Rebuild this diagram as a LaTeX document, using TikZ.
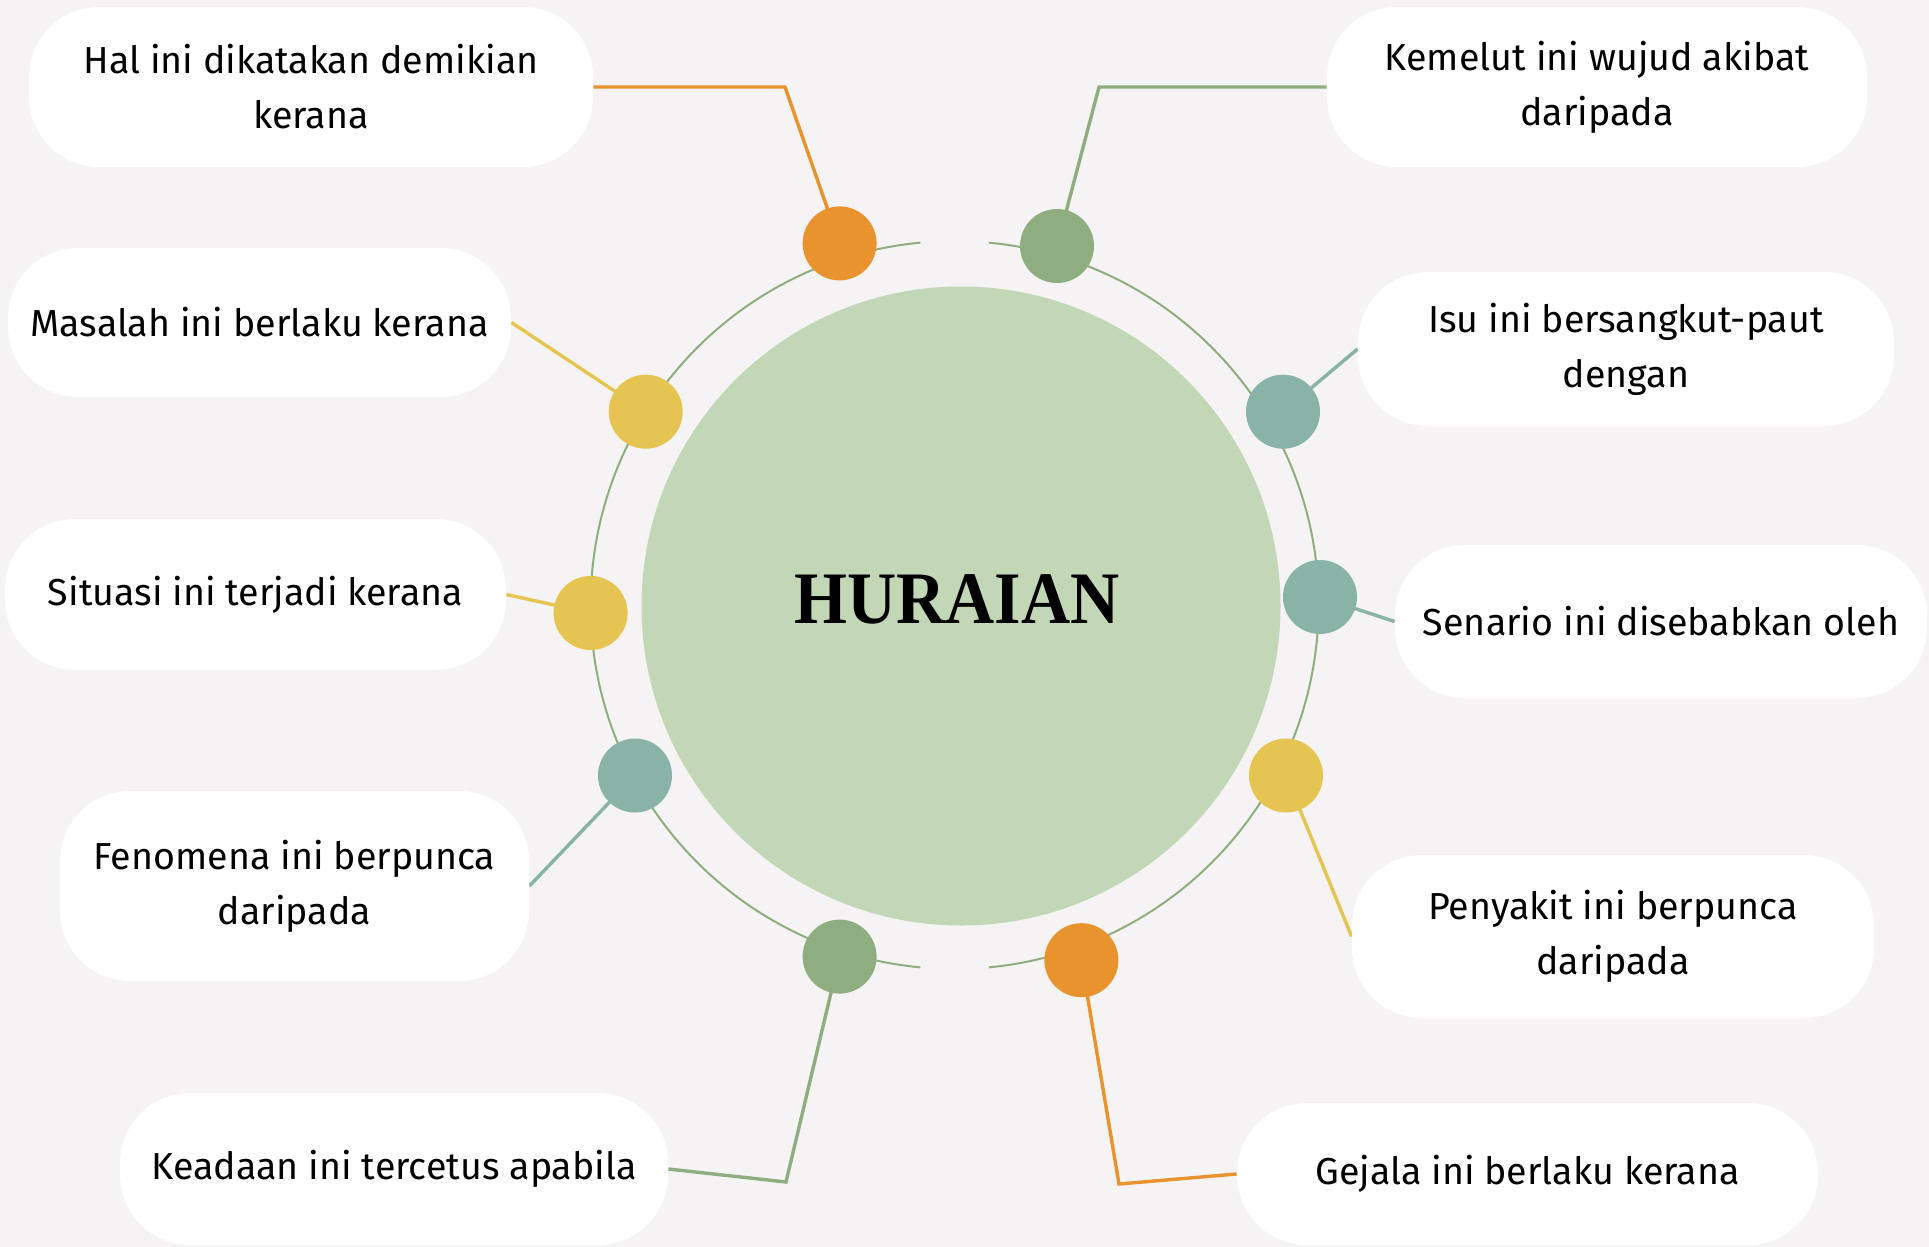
\documentclass[tikz,border=0pt]{standalone}
\usepackage{fontspec}
\usepackage{graphicx}
\setmainfont{Fira Sans}
\newfontfamily\titlefont{Liberation Serif}
\usetikzlibrary{backgrounds}
\definecolor{bgc}{HTML}{F5F3F4}
\definecolor{hubc}{HTML}{C1D7B6}
\definecolor{orangec}{HTML}{E8932E}
\definecolor{greenc}{HTML}{8FAE80}
\definecolor{tealc}{HTML}{89B3A6}
\definecolor{yellowc}{HTML}{E5C451}
\definecolor{ringc}{HTML}{8FAE80}
\begin{document}
\begin{tikzpicture}[x=0.5pt,y=-0.5pt,
  box/.style={fill=white, rounded corners=35pt, inner sep=0pt, align=center,
    font=\fontsize{18.8}{27.5}\selectfont, text=black},
  dot/.style={circle, minimum size=37pt, inner sep=0pt},
  conn/.style={line width=1.7pt},
  ringline/.style={line width=1pt, draw=ringc}]
\useasboundingbox (0,0) rectangle (1929,1247);
% hub
\node[circle, fill=hubc, minimum size=319.5pt, inner sep=0pt] (hub) at (961,606) {};
\node (title) at (957,599) {\titlefont\bfseries\fontsize{37}{37}\selectfont\scalebox{0.92}[1]{HURAIAN}};
% ring
\draw[ringline] (954.6,605) ++(-84.6:364) arc[start angle=-84.6, end angle=84.6, radius=364];
\draw[ringline] (954.6,605) ++(95.4:364) arc[start angle=95.4, end angle=264.6, radius=364];
% dots
\node[dot, fill=orangec] (dO1) at (839.6,243.4) {};
\node[dot, fill=yellowc] (dY1) at (645.7,411.7) {};
\node[dot, fill=yellowc] (dY2) at (590.6,613) {};
\node[dot, fill=tealc]   (dT1) at (635,775.5) {};
\node[dot, fill=greenc]  (dG1) at (839.6,956.6) {};
\node[dot, fill=greenc]  (dG2) at (1057,246) {};
\node[dot, fill=tealc]   (dT2) at (1283,411.7) {};
\node[dot, fill=tealc]   (dT3) at (1320,597) {};
\node[dot, fill=yellowc] (dY3) at (1286,775.5) {};
\node[dot, fill=orangec] (dO2) at (1081.4,960.2) {};
% boxes
\node[box, minimum width=282pt, minimum height=80pt] (b1) at (311,87) {Hal ini dikatakan demikian\\kerana};
\node[box, minimum width=251.5pt, minimum height=74.5pt] (b2) at (259.5,322.5) {Masalah ini berlaku kerana};
\node[box, minimum width=250.5pt, minimum height=75.5pt] (b3) at (255.5,594.5) {Situasi ini terjadi kerana};
\node[box, minimum width=234.5pt, minimum height=95pt] (b4) at (294.5,886) {Fenomena ini berpunca\\daripada};
\node[box, minimum width=274pt, minimum height=76pt] (b5) at (394,1169) {Keadaan ini tercetus apabila};
\node[box, minimum width=270pt, minimum height=80pt] (b6) at (1597,87) {Kemelut ini wujud akibat\\daripada};
\node[box, minimum width=268pt, minimum height=77pt] (b7) at (1626,349) {Isu ini bersangkut-paut\\dengan};
\node[box, minimum width=266pt, minimum height=76.5pt] (b8) at (1661,621.5) {Senario ini disebabkan oleh};
\node[box, minimum width=261pt, minimum height=81.5pt] (b9) at (1613,936.5) {Penyakit ini berpunca\\daripada};
\node[box, minimum width=290.5pt, minimum height=71pt] (b10) at (1527.5,1174) {Gejala ini berlaku kerana};
% bends
\coordinate (k1) at (785,87);
\coordinate (k5) at (786,1182);
\coordinate (k6) at (1099,87);
\coordinate (k10) at (1119,1184);
\begin{scope}[on background layer]
\fill[bgc] (0,0) rectangle (1929,1247);
\draw[conn, orangec] (b1.east) -- (k1) -- (dO1.center);
\draw[conn, yellowc] (b2.east) -- (dY1.center);
\draw[conn, yellowc] (b3.east) -- (dY2.center);
\draw[conn, tealc] (b4.east) -- (dT1.center);
\draw[conn, greenc] (b5.east) -- (k5) -- (dG1.center);
\draw[conn, greenc] (b6.west) -- (k6) -- (dG2.center);
\draw[conn, tealc] (b7.west) -- (dT2.center);
\draw[conn, tealc] (dT3.center) -- (b8.west);
\draw[conn, yellowc] (dY3.center) -- (b9.west);
\draw[conn, orangec] (b10.west) -- (k10) -- (dO2.center);
\end{scope}
\end{tikzpicture}
\end{document}
